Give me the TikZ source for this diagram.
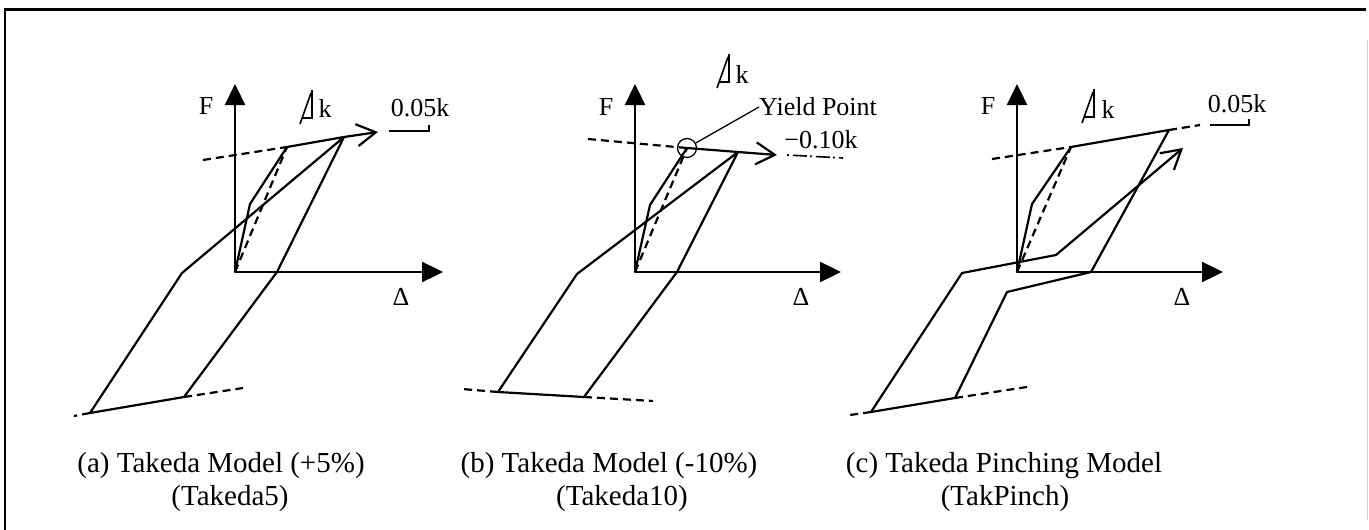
\documentclass[tikz,border=0pt]{standalone}
\usepackage{fontspec}
\setmainfont{Liberation Serif}
\usetikzlibrary{arrows.meta}
\begin{document}
\begin{tikzpicture}[x=1pt,y=-1pt,
  curve/.style={line width=2.2pt, line join=round, line cap=round},
  dashline/.style={line width=2.2pt, dash pattern=on 8pt off 5pt},
  axis/.style={line width=2.4pt, -{Triangle[length=21pt,width=20pt]}},
  barb/.style={-{Straight Barb[length=19pt,width=22pt,line width=2.2pt]}},
  slope/.style={line width=1.6pt},
  lab/.style={font=\fontsize{26}{31}\selectfont, inner sep=0pt},
  captxt/.style={font=\fontsize{29}{35}\selectfont, inner sep=0pt, anchor=base},
  slopek/.pic={\draw[slope] (-12,6) -- (-1,-25) (0,-28) -- (0,0) -- (-9,0);}]
\useasboundingbox (0,0) rectangle (1369,530);
% frame
\draw[line width=2.2pt] (5,530) -- (5,9.5) -- (1366,9.5);
\draw[gray!40, line width=1pt] (1367.5,40) -- (1367.5,520);

% ---------------- panel (a)
\coordinate (aO) at (235,272);
\coordinate (aFt) at (235,84);
\coordinate (aDt) at (443,272);
\coordinate (aC) at (250,204);
\coordinate (aY) at (287,147);
\coordinate (aP) at (344,137);
\coordinate (aT) at (378,132);
\coordinate (aU) at (277,272);
\coordinate (aB1) at (184,397);
\coordinate (aB2) at (90,413);
\coordinate (aK) at (182,273);
\coordinate (aDL) at (203,160);
\coordinate (aDR) at (243,388);
\coordinate (aDBL) at (74,416);
\draw[axis] (aO) -- (aFt);
\draw[axis] (aO) -- (aDt);
\node[lab] (aF) at (206,106) {F};
\node[lab] (aD) at (401,297) {Δ};
\draw[curve] (aO) -- (aC) -- (aY) -- (aP) -- (aU) -- (aB1) -- (aB2) -- (aK) -- (aP);
\draw[curve, barb] (aP) -- (aT);
\draw[dashline] (aO) -- (aY);
\draw[dashline] (aDL) -- (aY);
\draw[dashline] (aB1) -- (aDR);
\draw[dashline] (aB2) -- (aDBL);
\pic at (312,118) {slopek};
\node[lab] (ak) at (325,108) {k};
\node[lab] (a005) at (420,108) {0.05k};
\draw[slope] (389,131) -- (429,131) -- (429,125);
\node[captxt] (acap1) at (221,472) {(a) Takeda Model (+5\%)};
\node[captxt] (acap2) at (230,505) {(Takeda5)};

% ---------------- panel (b)
\coordinate (bO) at (635,272);
\coordinate (bFt) at (635,84);
\coordinate (bDt) at (841,272);
\coordinate (bC) at (650,205);
\coordinate (bY) at (687,148);
\coordinate (bP) at (738,152);
\coordinate (bT) at (777,155);
\coordinate (bU) at (677,272);
\coordinate (bB1) at (584,397);
\coordinate (bB2) at (498,392);
\coordinate (bK) at (577,274);
\coordinate (bDL) at (588,139);
\coordinate (bDR) at (653,401);
\coordinate (bDBL) at (462,389);
\coordinate (bE1) at (787,155);
\coordinate (bE2) at (843,158);
\draw[axis] (bO) -- (bFt);
\draw[axis] (bO) -- (bDt);
\node[lab] (bF) at (606,107) {F};
\node[lab] (bD) at (801,297) {Δ};
\draw[curve] (bO) -- (bC) -- (bY) -- (bP) -- (bU) -- (bB1) -- (bB2) -- (bK) -- (bP);
\draw[curve, barb] (bP) -- (bT);
\draw[dashline] (bO) -- (bY);
\draw[dashline] (bDL) -- (bY);
\draw[dashline] (bB1) -- (bDR);
\draw[dashline] (bB2) -- (bDBL);
\draw[line width=1.6pt, dash pattern=on 2pt off 4pt on 14pt off 3pt] (bE1) -- (bE2);
\node[circle, draw, line width=1.3pt, minimum size=19pt, inner sep=0pt] (bYc) at (bY) {};
\pic at (729,82) {slopek};
\node[lab] (bk) at (742,74) {k};
\node[lab, anchor=west] (byp) at (759,107) {Yield Point};
\draw[line width=1.3pt] (bYc) -- (byp.west);
\node[lab] (b010) at (821,140) {−0.10k};
\node[captxt] (bcap1) at (609,472) {(b) Takeda Model (-10\%)};
\node[captxt] (bcap2) at (622,505) {(Takeda10)};

% ---------------- panel (c)
\coordinate (cO) at (1017,272);
\coordinate (cFt) at (1017,84);
\coordinate (cDt) at (1223,272);
\coordinate (cC) at (1032,204);
\coordinate (cY) at (1071,147);
\coordinate (cP) at (1169,130);
\coordinate (cDR) at (1200,125);
\coordinate (cDL) at (992,159);
\coordinate (cU) at (1091,272);
\coordinate (cI) at (1007,292);
\coordinate (cB1) at (955,398);
\coordinate (cB2) at (871,412);
\coordinate (cDBR) at (1027,387);
\coordinate (cDBL) at (850,415);
\coordinate (cK) at (962,273);
\coordinate (cM) at (1056,255);
\coordinate (cT) at (1183,148);
\draw[axis] (cO) -- (cFt);
\draw[axis] (cO) -- (cDt);
\node[lab] (cF) at (988,106) {F};
\node[lab] (cD) at (1182,297) {Δ};
\draw[curve] (cO) -- (cC) -- (cY) -- (cP) -- (cU) -- (cI) -- (cB1) -- (cB2) -- (cK) -- (cM);
\draw[curve, barb] (cM) -- (cT);
\draw[dashline] (cO) -- (cY);
\draw[dashline] (cDL) -- (cY);
\draw[dashline] (cP) -- (cDR);
\draw[dashline] (cB1) -- (cDBR);
\draw[dashline] (cB2) -- (cDBL);
\pic at (1094,117) {slopek};
\node[lab] (ck) at (1108,109) {k};
\node[lab] (c005) at (1237,104) {0.05k};
\draw[slope] (1210,125) -- (1249,125) -- (1249,119);
\node[captxt] (ccap1) at (1004,472) {(c) Takeda Pinching Model};
\node[captxt] (ccap2) at (1005,505) {(TakPinch)};
\end{tikzpicture}
\end{document}
